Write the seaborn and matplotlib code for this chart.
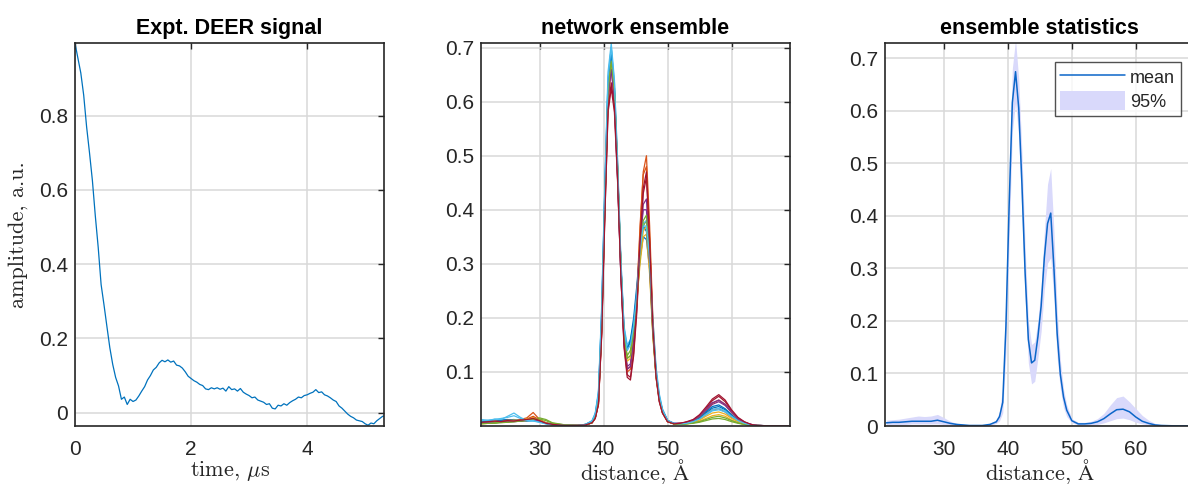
import numpy as np
import pandas as pd
import matplotlib
matplotlib.use('Agg')
import matplotlib.pyplot as plt
import seaborn as sns

# ---- experimental DEER trace (time in us, amplitude a.u.)
time_us = [0.00, 0.05, 0.10, 0.15, 0.20, 0.25, 0.30, 0.35, 0.40, 0.45,
           0.50, 0.55, 0.60, 0.65, 0.70, 0.75, 0.80, 0.85, 0.90, 0.95,
           1.00, 1.05, 1.10, 1.15, 1.20, 1.25, 1.30, 1.35, 1.40, 1.45,
           1.50, 1.55, 1.60, 1.65, 1.70, 1.75, 1.80, 1.85, 1.90, 1.95,
           2.00, 2.05, 2.10, 2.15, 2.20, 2.25, 2.30, 2.35, 2.40, 2.45,
           2.50, 2.55, 2.60, 2.65, 2.70, 2.75, 2.80, 2.85, 2.90, 2.95,
           3.00, 3.05, 3.10, 3.15, 3.20, 3.25, 3.30, 3.35, 3.40, 3.45,
           3.50, 3.55, 3.60, 3.65, 3.70, 3.75, 3.80, 3.85, 3.90, 3.95,
           4.00, 4.05, 4.10, 4.15, 4.20, 4.25, 4.30, 4.35, 4.40, 4.45,
           4.50, 4.55, 4.60, 4.65, 4.70, 4.75, 4.80, 4.85, 4.90, 4.95,
           5.00, 5.05, 5.10, 5.15, 5.20, 5.25, 5.30, 5.35]
signal = [0.995, 0.955, 0.915, 0.855, 0.770, 0.700, 0.625, 0.530, 0.445, 0.345,
          0.290, 0.232, 0.175, 0.130, 0.095, 0.072, 0.036, 0.042, 0.022, 0.036,
          0.030, 0.034, 0.045, 0.058, 0.070, 0.088, 0.100, 0.115, 0.122, 0.134,
          0.141, 0.137, 0.142, 0.136, 0.139, 0.128, 0.126, 0.120, 0.110, 0.098,
          0.092, 0.086, 0.082, 0.076, 0.073, 0.064, 0.062, 0.067, 0.064, 0.067,
          0.063, 0.066, 0.058, 0.070, 0.062, 0.064, 0.058, 0.065, 0.055, 0.050,
          0.046, 0.040, 0.042, 0.034, 0.031, 0.028, 0.022, 0.024, 0.012, 0.010,
          0.020, 0.018, 0.024, 0.020, 0.027, 0.032, 0.036, 0.042, 0.040, 0.046,
          0.048, 0.052, 0.055, 0.062, 0.054, 0.056, 0.048, 0.045, 0.040, 0.034,
          0.030, 0.018, 0.012, 0.004, -0.004, -0.010, -0.014, -0.020, -0.022, -0.024,
          -0.030, -0.034, -0.028, -0.030, -0.022, -0.016, -0.010, -0.008]

# ---- distance grid (Angstrom) shared by ensemble and statistics
distance = [21, 22, 23, 24, 25, 26, 27, 28, 29, 30, 31, 32, 34, 36, 37.2,
            38.2, 38.7, 39.2, 39.7, 40.2, 40.7, 41.2, 41.7, 42.2, 42.7, 43.2,
            43.7, 44.2, 44.7, 45.2, 45.7, 46.2, 46.7, 47.2, 47.7, 48.2, 48.7,
            49.2, 50, 51, 52, 53, 54, 55, 56, 57, 58, 59, 60, 61, 62, 63, 64, 66, 69]

# network ensemble members (one row per network)
ensemble = [
    [0.008, 0.010, 0.009, 0.011, 0.012, 0.010, 0.011, 0.009, 0.010, 0.008, 0.005, 0.003, 0.001, 0.001, 0.003,
     0.009, 0.022, 0.060, 0.210, 0.440, 0.640, 0.700, 0.625, 0.470, 0.300, 0.180, 0.145, 0.155, 0.190, 0.240,
     0.310, 0.350, 0.345, 0.290, 0.170, 0.095, 0.050, 0.028, 0.009, 0.004, 0.004, 0.005, 0.008, 0.014, 0.024,
     0.033, 0.036, 0.030, 0.019, 0.010, 0.005, 0.002, 0.001, 0.0003, 0.0],
    [0.005, 0.006, 0.007, 0.008, 0.010, 0.009, 0.012, 0.015, 0.025, 0.012, 0.006, 0.003, 0.001, 0.001, 0.002,
     0.006, 0.015, 0.040, 0.170, 0.400, 0.600, 0.665, 0.610, 0.470, 0.300, 0.160, 0.105, 0.110, 0.160, 0.240,
     0.360, 0.470, 0.500, 0.370, 0.200, 0.100, 0.050, 0.025, 0.008, 0.004, 0.004, 0.005, 0.008, 0.013, 0.022,
     0.030, 0.032, 0.026, 0.016, 0.009, 0.005, 0.002, 0.001, 0.0003, 0.0],
    [0.004, 0.005, 0.006, 0.008, 0.008, 0.009, 0.010, 0.012, 0.016, 0.010, 0.005, 0.002, 0.001, 0.001, 0.003,
     0.008, 0.018, 0.050, 0.190, 0.420, 0.620, 0.675, 0.615, 0.465, 0.290, 0.165, 0.125, 0.130, 0.180, 0.230,
     0.300, 0.350, 0.355, 0.280, 0.165, 0.090, 0.050, 0.027, 0.009, 0.004, 0.003, 0.004, 0.006, 0.009, 0.014,
     0.019, 0.021, 0.018, 0.011, 0.006, 0.003, 0.001, 0.0005, 0.0002, 0.0],
    [0.005, 0.006, 0.006, 0.007, 0.008, 0.008, 0.009, 0.010, 0.012, 0.009, 0.005, 0.003, 0.001, 0.001, 0.002,
     0.007, 0.016, 0.045, 0.180, 0.410, 0.610, 0.665, 0.600, 0.460, 0.285, 0.160, 0.110, 0.115, 0.165, 0.230,
     0.330, 0.410, 0.420, 0.310, 0.180, 0.100, 0.055, 0.030, 0.010, 0.005, 0.005, 0.006, 0.010, 0.017, 0.028,
     0.040, 0.045, 0.038, 0.025, 0.014, 0.007, 0.003, 0.001, 0.0004, 0.0],
    [0.004, 0.005, 0.005, 0.006, 0.007, 0.008, 0.009, 0.011, 0.013, 0.015, 0.012, 0.006, 0.002, 0.001, 0.002,
     0.006, 0.016, 0.045, 0.180, 0.410, 0.615, 0.680, 0.625, 0.480, 0.300, 0.170, 0.130, 0.140, 0.180, 0.235,
     0.310, 0.370, 0.380, 0.300, 0.175, 0.095, 0.050, 0.027, 0.009, 0.004, 0.003, 0.004, 0.005, 0.007, 0.010,
     0.013, 0.014, 0.012, 0.008, 0.005, 0.003, 0.001, 0.0005, 0.0002, 0.0],
    [0.012, 0.010, 0.013, 0.012, 0.018, 0.024, 0.016, 0.010, 0.009, 0.007, 0.004, 0.002, 0.001, 0.001, 0.003,
     0.010, 0.024, 0.065, 0.220, 0.450, 0.655, 0.708, 0.640, 0.490, 0.310, 0.185, 0.150, 0.160, 0.190, 0.250,
     0.330, 0.375, 0.380, 0.320, 0.200, 0.110, 0.060, 0.032, 0.011, 0.005, 0.004, 0.005, 0.007, 0.012, 0.020,
     0.028, 0.030, 0.026, 0.017, 0.010, 0.005, 0.002, 0.001, 0.0004, 0.0],
    [0.006, 0.008, 0.007, 0.009, 0.008, 0.010, 0.009, 0.011, 0.013, 0.009, 0.005, 0.002, 0.001, 0.001, 0.002,
     0.006, 0.014, 0.040, 0.170, 0.390, 0.580, 0.625, 0.580, 0.450, 0.280, 0.145, 0.090, 0.085, 0.130, 0.210,
     0.330, 0.430, 0.460, 0.340, 0.180, 0.090, 0.045, 0.024, 0.008, 0.004, 0.005, 0.007, 0.011, 0.019, 0.032,
     0.047, 0.055, 0.045, 0.028, 0.015, 0.007, 0.003, 0.001, 0.0004, 0.0],
    [0.007, 0.009, 0.008, 0.010, 0.011, 0.012, 0.010, 0.011, 0.012, 0.009, 0.006, 0.003, 0.001, 0.001, 0.003,
     0.008, 0.020, 0.055, 0.200, 0.430, 0.630, 0.690, 0.620, 0.470, 0.300, 0.175, 0.140, 0.160, 0.200, 0.260,
     0.330, 0.370, 0.360, 0.300, 0.180, 0.100, 0.053, 0.029, 0.010, 0.004, 0.004, 0.005, 0.008, 0.015, 0.026,
     0.036, 0.039, 0.032, 0.021, 0.011, 0.005, 0.002, 0.001, 0.0003, 0.0],
    [0.006, 0.007, 0.009, 0.008, 0.011, 0.010, 0.011, 0.013, 0.018, 0.011, 0.006, 0.003, 0.001, 0.001, 0.002,
     0.006, 0.015, 0.042, 0.175, 0.405, 0.605, 0.670, 0.615, 0.475, 0.300, 0.160, 0.100, 0.105, 0.155, 0.240,
     0.370, 0.465, 0.480, 0.350, 0.190, 0.095, 0.048, 0.025, 0.008, 0.004, 0.005, 0.007, 0.011, 0.018, 0.030,
     0.042, 0.048, 0.040, 0.025, 0.013, 0.006, 0.002, 0.001, 0.0003, 0.0],
    [0.005, 0.006, 0.008, 0.007, 0.009, 0.011, 0.010, 0.013, 0.014, 0.011, 0.006, 0.002, 0.001, 0.001, 0.002,
     0.007, 0.017, 0.048, 0.185, 0.415, 0.615, 0.670, 0.610, 0.465, 0.295, 0.165, 0.120, 0.125, 0.170, 0.230,
     0.310, 0.360, 0.370, 0.290, 0.170, 0.092, 0.050, 0.027, 0.009, 0.004, 0.004, 0.005, 0.007, 0.011, 0.018,
     0.024, 0.026, 0.022, 0.014, 0.008, 0.004, 0.002, 0.001, 0.0003, 0.0],
    [0.006, 0.007, 0.007, 0.008, 0.009, 0.009, 0.010, 0.011, 0.012, 0.009, 0.005, 0.003, 0.001, 0.001, 0.002,
     0.007, 0.016, 0.045, 0.180, 0.410, 0.610, 0.660, 0.600, 0.455, 0.280, 0.155, 0.105, 0.110, 0.160, 0.240,
     0.340, 0.400, 0.400, 0.300, 0.175, 0.095, 0.050, 0.028, 0.009, 0.005, 0.005, 0.007, 0.011, 0.019, 0.031,
     0.043, 0.048, 0.040, 0.026, 0.014, 0.007, 0.003, 0.001, 0.0004, 0.0],
    [0.005, 0.005, 0.006, 0.007, 0.007, 0.008, 0.009, 0.010, 0.012, 0.013, 0.010, 0.005, 0.002, 0.001, 0.002,
     0.006, 0.016, 0.046, 0.185, 0.415, 0.620, 0.675, 0.620, 0.475, 0.300, 0.170, 0.125, 0.130, 0.175, 0.235,
     0.320, 0.380, 0.390, 0.310, 0.180, 0.097, 0.052, 0.028, 0.009, 0.004, 0.003, 0.004, 0.006, 0.008, 0.012,
     0.016, 0.018, 0.015, 0.010, 0.006, 0.003, 0.001, 0.0005, 0.0002, 0.0],
    [0.010, 0.011, 0.012, 0.014, 0.016, 0.019, 0.014, 0.010, 0.010, 0.007, 0.004, 0.002, 0.001, 0.001, 0.003,
     0.009, 0.022, 0.060, 0.210, 0.440, 0.645, 0.700, 0.635, 0.485, 0.310, 0.180, 0.140, 0.150, 0.185, 0.245,
     0.325, 0.370, 0.370, 0.310, 0.190, 0.105, 0.057, 0.030, 0.010, 0.005, 0.004, 0.005, 0.008, 0.013, 0.022,
     0.030, 0.033, 0.028, 0.018, 0.010, 0.005, 0.002, 0.001, 0.0004, 0.0],
    [0.007, 0.008, 0.009, 0.008, 0.010, 0.009, 0.011, 0.012, 0.014, 0.010, 0.005, 0.003, 0.001, 0.001, 0.002,
     0.006, 0.014, 0.040, 0.165, 0.385, 0.585, 0.635, 0.590, 0.455, 0.280, 0.150, 0.095, 0.090, 0.135, 0.220,
     0.340, 0.440, 0.470, 0.340, 0.185, 0.092, 0.046, 0.024, 0.008, 0.004, 0.005, 0.008, 0.012, 0.021, 0.035,
     0.050, 0.058, 0.048, 0.030, 0.016, 0.008, 0.003, 0.001, 0.0004, 0.0],
]

# ensemble statistics: mean and 95% band
stat_mean = [0.006, 0.007, 0.007, 0.008, 0.009, 0.009, 0.009, 0.009, 0.011, 0.008, 0.005, 0.003, 0.001, 0.001, 0.003,
             0.008, 0.018, 0.045, 0.190, 0.420, 0.615, 0.674, 0.605, 0.460, 0.290, 0.165, 0.120, 0.125, 0.170, 0.228,
             0.320, 0.385, 0.405, 0.300, 0.176, 0.098, 0.055, 0.030, 0.010, 0.004, 0.004, 0.005, 0.008, 0.014, 0.023,
             0.031, 0.032, 0.027, 0.017, 0.009, 0.005, 0.002, 0.001, 0.0003, 0.0]
stat_upper = [0.011, 0.012, 0.013, 0.015, 0.017, 0.019, 0.018, 0.019, 0.022, 0.016, 0.009, 0.005, 0.002, 0.002, 0.005,
              0.012, 0.028, 0.075, 0.250, 0.490, 0.680, 0.735, 0.660, 0.520, 0.340, 0.200, 0.155, 0.160, 0.200, 0.265,
              0.370, 0.460, 0.490, 0.370, 0.220, 0.125, 0.070, 0.040, 0.014, 0.007, 0.007, 0.009, 0.014, 0.024, 0.040,
              0.054, 0.057, 0.046, 0.033, 0.020, 0.011, 0.005, 0.002, 0.0008, 0.0]
stat_lower = [0.003, 0.003, 0.003, 0.003, 0.004, 0.004, 0.004, 0.004, 0.004, 0.003, 0.002, 0.001, 0.0003, 0.0003, 0.001,
              0.005, 0.010, 0.025, 0.140, 0.350, 0.560, 0.615, 0.550, 0.400, 0.240, 0.120, 0.080, 0.085, 0.130, 0.180,
              0.260, 0.310, 0.320, 0.240, 0.130, 0.070, 0.035, 0.018, 0.006, 0.002, 0.002, 0.002, 0.003, 0.006, 0.010,
              0.014, 0.015, 0.012, 0.007, 0.004, 0.002, 0.001, 0.0003, 0.0001, 0.0]

matlab_colors = ['#0072BD', '#D95319', '#EDB120', '#7E2F8E', '#77AC30', '#4DBEEE', '#A2142F']
dark = '#262626'

sns.set_style('white')
plt.rcParams['font.family'] = ['Liberation Sans', 'DejaVu Sans']
plt.rcParams['mathtext.fontset'] = 'cm'

fig = plt.figure(figsize=(11.88, 4.84), dpi=100)
W, H = 1188.0, 484.0
bottom = (H - 426) / H
height = (426 - 43.3) / H
ax1 = fig.add_axes([75 / W, bottom, 309.3 / W, height])
ax2 = fig.add_axes([481 / W, bottom, 308.8 / W, height])
ax3 = fig.add_axes([885.3 / W, bottom, 308.8 / W, height])


def matlab_axes(ax):
    ax.grid(True, color='#d9d9d9', linewidth=1.1)
    ax.set_axisbelow(True)
    for sp in ax.spines.values():
        sp.set_color(dark)
        sp.set_linewidth(1.2)
    ax.tick_params(direction='in', top=True, right=True, length=4.5, width=1.0,
                   color=dark, labelcolor=dark, labelsize=15)
    ax.tick_params(axis='x', pad=10)
    ax.tick_params(axis='y', pad=5)


# serif (LaTeX-like) axis labels
label_kw = dict(fontsize=16, color=dark, family='cmr10')
title_kw = dict(fontsize=15.5, fontweight='bold', color='black', pad=7)

# panel 1: experimental signal
sig_df = pd.DataFrame({'t': time_us, 'V': signal})
sns.lineplot(data=sig_df, x='t', y='V', ax=ax1, color='#0072BD', linewidth=0.9)
ax1.set_xlim(0, 5.33)
ax1.set_ylim(-0.036, 0.995)
ax1.set_xticks([0, 2, 4])
ax1.set_yticks([0, 0.2, 0.4, 0.6, 0.8])
ax1.set_xticklabels(['0', '2', '4'])
ax1.set_yticklabels(['0', '0.2', '0.4', '0.6', '0.8'])
ax1.set_xlabel(r'time, $\mu$s', labelpad=0, **label_kw)
ax1.set_ylabel('amplitude, a.u.', labelpad=8, **label_kw)
ax1.set_title('Expt. DEER signal', **title_kw)
matlab_axes(ax1)

# panel 2: network ensemble
rows = []
for k, member in enumerate(ensemble):
    for r, p in zip(distance, member):
        rows.append({'r': r, 'P': p, 'member': k})
ens_df = pd.DataFrame(rows)
palette = [matlab_colors[k % 7] for k in range(len(ensemble))]
sns.lineplot(data=ens_df, x='r', y='P', hue='member', palette=palette,
             estimator=None, legend=False, ax=ax2, linewidth=0.9)
ax2.set_xlim(20.85, 69.1)
ax2.set_ylim(0, 0.708)
ax2.set_xticks([30, 40, 50, 60])
ax2.set_yticks([0.1, 0.2, 0.3, 0.4, 0.5, 0.6, 0.7])
ax2.set_xticklabels(['30', '40', '50', '60'])
ax2.set_yticklabels(['0.1', '0.2', '0.3', '0.4', '0.5', '0.6', '0.7'])
ax2.set_xlabel(r'distance, $\mathrm{\AA}$', labelpad=-1, **label_kw)
ax2.set_ylabel('')
ax2.set_title('network ensemble', **title_kw)
matlab_axes(ax2)

# panel 3: ensemble statistics
stat_df = pd.DataFrame({'r': distance, 'mean': stat_mean,
                        'lo': stat_lower, 'hi': stat_upper})
ax3.fill_between(stat_df['r'], stat_df['lo'], stat_df['hi'], color='#d9d9fb',
                 linewidth=0, label='95%')
sns.lineplot(data=stat_df, x='r', y='mean', ax=ax3, color='#0b66c9',
             linewidth=1.1, label='mean')
ax3.set_xlim(20.85, 69.1)
ax3.set_ylim(0, 0.728)
ax3.set_xticks([30, 40, 50, 60])
ax3.set_yticks([0, 0.1, 0.2, 0.3, 0.4, 0.5, 0.6, 0.7])
ax3.set_xticklabels(['30', '40', '50', '60'])
ax3.set_yticklabels(['0', '0.1', '0.2', '0.3', '0.4', '0.5', '0.6', '0.7'])
ax3.set_xlabel(r'distance, $\mathrm{\AA}$', labelpad=-1, **label_kw)
ax3.set_ylabel('')
ax3.set_title('ensemble statistics', **title_kw)
matlab_axes(ax3)

handles, labels = ax3.get_legend_handles_labels()
order = [labels.index('mean'), labels.index('95%')]
leg = ax3.legend([handles[i] for i in order], [labels[i] for i in order],
                 loc='upper right', bbox_to_anchor=(1180.7 / W, 1 - 61.7 / H),
                 bbox_transform=fig.transFigure, fontsize=13, frameon=True,
                 fancybox=False, handlelength=3.6, handleheight=1.3,
                 handletextpad=0.28, borderpad=0.3, labelspacing=0.2,
                 borderaxespad=0)
leg.get_frame().set_edgecolor(dark)
leg.get_frame().set_linewidth(1.0)

fig.savefig('out.png', dpi=100)
